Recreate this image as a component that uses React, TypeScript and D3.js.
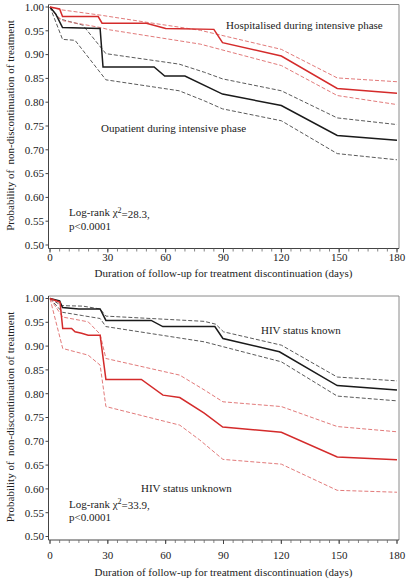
import React from 'react';
import * as d3 from 'd3';

type Pt = [number, number];

const xTickValues = [0, 30, 60, 90, 120, 150, 180];
const yTickValues = [0.5, 0.55, 0.6, 0.65, 0.7, 0.75, 0.8, 0.85, 0.9, 0.95, 1.0];

// Top panel: hospitalised (red) vs outpatient (black)
const hospEst: Pt[] = [[0, 1], [5, 0.996], [6.5, 0.98], [25, 0.98], [27, 0.966], [50, 0.966], [60, 0.955], [85, 0.953], [89.5, 0.925], [120, 0.897], [149, 0.829], [180, 0.819]];
const hospUpper: Pt[] = [[0, 1], [6, 0.994], [26, 0.983], [50, 0.968], [78, 0.951], [120, 0.911], [149, 0.851], [180, 0.843]];
const hospLower: Pt[] = [[0, 1], [3.5, 0.981], [7, 0.971], [26, 0.957], [31, 0.952], [78, 0.922], [120, 0.877], [149, 0.814], [180, 0.795]];
const outEst: Pt[] = [[0, 1], [3, 0.985], [6.5, 0.957], [26, 0.955], [27.5, 0.874], [54, 0.874], [59.5, 0.855], [70, 0.855], [89.5, 0.817], [120, 0.793], [149, 0.73], [180, 0.72]];
const outUpper: Pt[] = [[0, 1], [5, 0.975], [17, 0.962], [29, 0.902], [67, 0.88], [80, 0.863], [89.5, 0.849], [120, 0.824], [149, 0.767], [180, 0.753]];
const outLower: Pt[] = [[0, 1], [6.5, 0.932], [13, 0.93], [29, 0.847], [67, 0.824], [80, 0.803], [89.5, 0.786], [120, 0.761], [149, 0.692], [180, 0.679]];

// Bottom panel: HIV status known (black) vs unknown (red)
const knownEst: Pt[] = [[0, 1], [5, 0.995], [6.5, 0.981], [15, 0.978], [26, 0.978], [29, 0.954], [52.5, 0.954], [58.5, 0.941], [85.5, 0.941], [89.7, 0.916], [119, 0.888], [149, 0.817], [180, 0.808]];
const knownUpper: Pt[] = [[0, 1], [6, 0.985], [17, 0.984], [26, 0.978], [29, 0.963], [80, 0.952], [86, 0.946], [90, 0.93], [120, 0.902], [149, 0.835], [180, 0.827]];
const knownLower: Pt[] = [[0, 1], [6.5, 0.971], [17, 0.964], [26, 0.958], [29, 0.941], [80, 0.909], [120, 0.867], [149, 0.795], [180, 0.785]];
const unknownEst: Pt[] = [[0, 1], [5.2, 0.992], [6.6, 0.937], [11.2, 0.937], [13, 0.93], [16.4, 0.927], [19.8, 0.923], [26, 0.923], [29, 0.83], [47.4, 0.83], [58.6, 0.797], [67.3, 0.792], [80, 0.759], [89.6, 0.73], [120, 0.719], [149, 0.667], [180, 0.661]];
const unknownUpper: Pt[] = [[0, 1], [6.6, 0.961], [19.8, 0.951], [26, 0.925], [29, 0.874], [67.3, 0.839], [80, 0.808], [89.7, 0.783], [120, 0.773], [149, 0.731], [180, 0.72]];
const unknownLower: Pt[] = [[0, 1], [6.6, 0.895], [19.8, 0.881], [26, 0.86], [29, 0.773], [67.3, 0.734], [77.6, 0.703], [89.7, 0.662], [120, 0.652], [149, 0.597], [180, 0.593]];

const yTitle = 'Probability of  non-discontinuation of treatment';
const xTitle = 'Duration of follow-up for treatment discontinuation (days)';

const FONT = '"Liberation Serif", "Times New Roman", serif';
const FS = 11;
const RED = '#d42b2b';
const RED_CI = '#e27a7a';
const BLACK = '#1a1a1a';
const GRAY_CI = '#5a5a5a';

type Series = { data: Pt[]; color: string; dashed: boolean };
type Note = { text: string; x: number; y: number };

function Panel({ top, series, notes, chi, tickDy, titleDy }: { top: number; series: Series[]; notes: Note[]; chi: string; tickDy: number; titleDy: number }) {
  const x = d3.scaleLinear().domain([0, 180]).range([50, 397]);
  const y = d3.scaleLinear().domain([0.5, 1]).range([top + 240.5, top + 2.5]);
  const axisY = top + 244;
  const left = 48.5;
  const right = 399;
  const line = d3.line<Pt>().x(d => x(d[0])).y(d => y(d[1]));
  const minorX = d3.range(0, 181, 5);
  return (
    <g>
      {/* frame */}
      <line x1={left} x2={right} y1={top} y2={top} stroke="#8a8a8a" strokeWidth={1} />
      <line x1={right} x2={right} y1={top} y2={axisY} stroke="#8a8a8a" strokeWidth={1} />
      <line x1={left} x2={left} y1={top} y2={axisY} stroke="#444" strokeWidth={1} />
      <line x1={left} x2={right} y1={axisY} y2={axisY} stroke="#444" strokeWidth={1} />
      {/* y ticks */}
      {yTickValues.map(v => (
        <g key={'y' + v}>
          <line x1={left - 3} x2={left} y1={y(v)} y2={y(v)} stroke="#444" strokeWidth={1} />
          <text x={44} y={y(v)} dy="0.35em" textAnchor="end" fontSize={FS} fontFamily={FONT} fill="#222">{d3.format('.2f')(v)}</text>
        </g>
      ))}
      {/* x ticks */}
      {minorX.map(v => (
        <line key={'mx' + v} x1={x(v)} x2={x(v)} y1={axisY} y2={axisY + 3} stroke="#666" strokeWidth={0.8} />
      ))}
      {xTickValues.map(v => (
        <g key={'x' + v}>
          <line x1={x(v)} x2={x(v)} y1={axisY} y2={axisY + 4} stroke="#444" strokeWidth={1} />
          <text x={x(v)} y={axisY + tickDy} dy="0.35em" textAnchor="middle" fontSize={FS} fontFamily={FONT} fill="#222">{v}</text>
        </g>
      ))}
      {/* titles */}
      <text x={x(90)} y={axisY + titleDy} dy="0.35em" textAnchor="middle" fontSize={FS} fontFamily={FONT} fill="#222">{xTitle}</text>
      <text transform={`translate(10,${top + 121}) rotate(-90)`} dy="0.35em" textAnchor="middle" fontSize={FS} fontFamily={FONT} fill="#222" style={{ whiteSpace: 'pre' }}>{yTitle}</text>
      {/* series */}
      {series.map((s, i) => (
        <path key={'s' + i} d={line(s.data) || ''} fill="none" stroke={s.color} strokeWidth={s.dashed ? 1 : 1.5} strokeDasharray={s.dashed ? '4,2' : undefined} />
      ))}
      {/* notes */}
      {notes.map((n, i) => (
        <text key={'n' + i} x={n.x} y={n.y} dy="0.35em" fontSize={FS} fontFamily={FONT} fill="#222">{n.text}</text>
      ))}
      <text x={69} y={top + 208} dy="0.35em" fontSize={FS} fontFamily={FONT} fill="#222">
        Log-rank χ<tspan dy="-0.45em" fontSize={8}>2</tspan><tspan dy="0.45em">={chi},</tspan>
      </text>
      <text x={69} y={top + 221.5} dy="0.35em" fontSize={FS} fontFamily={FONT} fill="#222">p&lt;0.0001</text>
    </g>
  );
}

export default function App() {
  return (
    <svg width={410} height={580} style={{ display: 'block', position: 'absolute', left: 0, top: 0, background: '#fff' }}>
      <Panel
        top={4.5}
        tickDy={9}
        titleDy={25}
        chi="28.3"
        series={[
          { data: outUpper, color: GRAY_CI, dashed: true },
          { data: outLower, color: GRAY_CI, dashed: true },
          { data: hospUpper, color: RED_CI, dashed: true },
          { data: hospLower, color: RED_CI, dashed: true },
          { data: outEst, color: BLACK, dashed: false },
          { data: hospEst, color: RED, dashed: false },
        ]}
        notes={[
          { text: 'Hospitalised during intensive phase', x: 226, y: 25 },
          { text: 'Oupatient during intensive phase', x: 101, y: 128 },
        ]}
      />
      <Panel
        top={296}
        tickDy={15}
        titleDy={32}
        chi="33.9"
        series={[
          { data: knownUpper, color: GRAY_CI, dashed: true },
          { data: knownLower, color: GRAY_CI, dashed: true },
          { data: unknownUpper, color: RED_CI, dashed: true },
          { data: unknownLower, color: RED_CI, dashed: true },
          { data: knownEst, color: BLACK, dashed: false },
          { data: unknownEst, color: RED, dashed: false },
        ]}
        notes={[
          { text: 'HIV status known', x: 261, y: 330 },
          { text: 'HIV status unknown', x: 141, y: 488 },
        ]}
      />
    </svg>
  );
}
